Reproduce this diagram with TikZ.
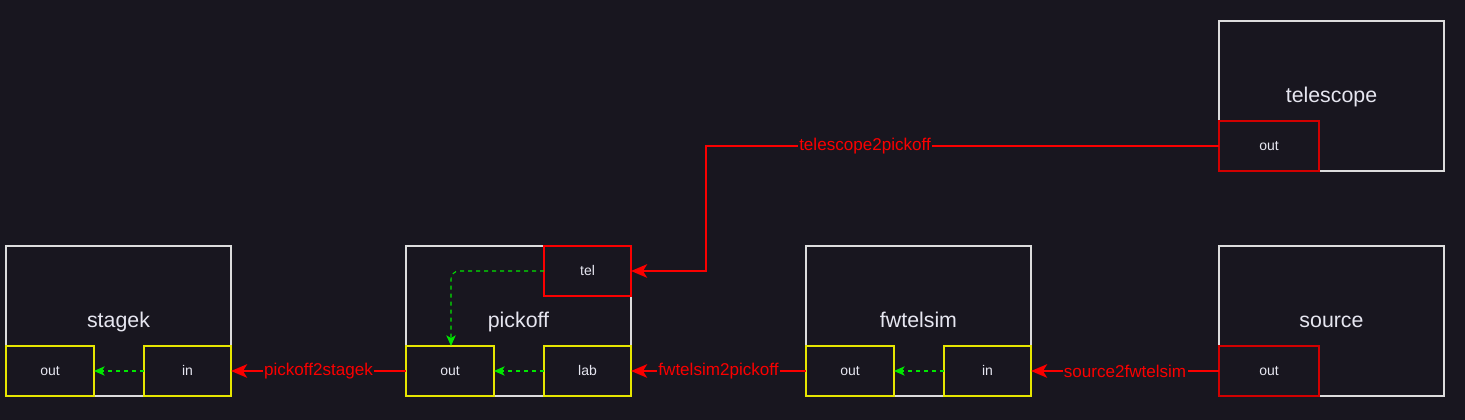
\documentclass[tikz,border=0pt]{standalone}
\usepackage{fontspec}
\setmainfont{Liberation Sans}
\usetikzlibrary{arrows.meta}
\definecolor{bg}{RGB}{24,22,31}
\definecolor{fg}{RGB}{230,230,240}
\definecolor{boxline}{RGB}{220,220,220}
\definecolor{yel}{RGB}{230,230,0}
\definecolor{red1}{RGB}{250,0,0}
\definecolor{red2}{RGB}{210,0,0}
\definecolor{grn}{RGB}{0,230,0}
\begin{document}
\begin{tikzpicture}[x=0.75pt,y=-0.75pt,
  comp/.style={draw=boxline,fill=bg,line width=0.9pt},
  title/.style={text=fg,font=\fontsize{16}{19}\selectfont,inner sep=0pt,anchor=base},
  port/.style={text=fg,font=\fontsize{10.5}{12}\selectfont,inner sep=0pt,anchor=base},
  yport/.style={draw=yel,fill=bg,line width=1pt},
  rport/.style={draw=red1,fill=bg,line width=1pt},
  dport/.style={draw=red2,fill=bg,line width=1pt},
  link/.style={draw=red1,line width=2pt,-{Stealth[length=12pt,width=10pt,inset=3pt]}},
  inner/.style={draw=grn,line width=0.8pt,dashed,dash pattern=on 3pt off 3pt,-{Stealth[length=8pt,width=7pt,inset=2pt]}},
  lab/.style={text=red1,fill=bg,font=\fontsize{12.8}{15}\selectfont,inner sep=1pt}]
\useasboundingbox[fill=bg] (0,0) rectangle (1465,420);
% components
\path[comp] (6,246) rectangle (231,396);
\path[comp] (406,246) rectangle (631,396);
\path[comp] (806,246) rectangle (1031,396);
\path[comp] (1219,246) rectangle (1444,396);
\path[comp] (1219,21) rectangle (1444,171);
\node[title] (tstagek) at (118.5,328) {stagek};
\node[title] (tpickoff) at (518.5,328) {pickoff};
\node[title] (tfwtelsim) at (918.5,328) {fwtelsim};
\node[title] (tsource) at (1331.5,328) {source};
\node[title] (ttelescope) at (1331.5,103) {telescope};
% ports
\path[yport] (6,346) rectangle (94,396);
\path[yport] (144,346) rectangle (231,396);
\path[yport] (406,346) rectangle (494,396);
\path[yport] (544,346) rectangle (631,396);
\path[rport] (544,246) rectangle (631,296);
\path[yport] (806,346) rectangle (894,396);
\path[yport] (944,346) rectangle (1031,396);
\path[dport] (1219,346) rectangle (1319,396);
\path[dport] (1219,121) rectangle (1319,171);
\node[port] (sout) at (50,376) {out};
\node[port] (sin) at (187.5,376) {in};
\node[port] (pout) at (450,376) {out};
\node[port] (plab) at (587.5,376) {lab};
\node[port] (ptel) at (587.5,276) {tel};
\node[port] (fout) at (850,376) {out};
\node[port] (fin) at (987.5,376) {in};
\node[port] (srcout) at (1269,376) {out};
\node[port] (tout) at (1269,151) {out};
% anchor coordinates
\coordinate (sinL) at (144,371);
\coordinate (soutR) at (94,371);
\coordinate (sinR) at (231,371);
\coordinate (poutL) at (406,371);
\coordinate (poutR) at (494,371);
\coordinate (poutT) at (451,346);
\coordinate (plabL) at (544,371);
\coordinate (plabR) at (631,371);
\coordinate (ptelL) at (544,271);
\coordinate (ptelR) at (631,271);
\coordinate (foutL) at (806,371);
\coordinate (foutR) at (894,371);
\coordinate (finL) at (944,371);
\coordinate (finR) at (1031,371);
\coordinate (srcL) at (1219,371);
\coordinate (toutL) at (1219,146);
\coordinate (bend) at (706,146);
% internal links
\draw[inner] (sinL) -- (soutR);
\draw[inner] (plabL) -- (poutR);
\draw[inner] (finL) -- (foutR);
\draw[inner,rounded corners=6pt] (ptelL) -| (poutT);
% external links
\draw[link] (srcL) -- node[lab] {source2fwtelsim} (finR);
\draw[link] (foutL) -- node[lab] {fwtelsim2pickoff} (plabR);
\draw[link] (poutL) -- node[lab] {pickoff2stagek} (sinR);
\draw[link] (toutL) -- node[lab,pos=0.69] {telescope2pickoff} (bend) |- (ptelR);
\end{tikzpicture}
\end{document}
